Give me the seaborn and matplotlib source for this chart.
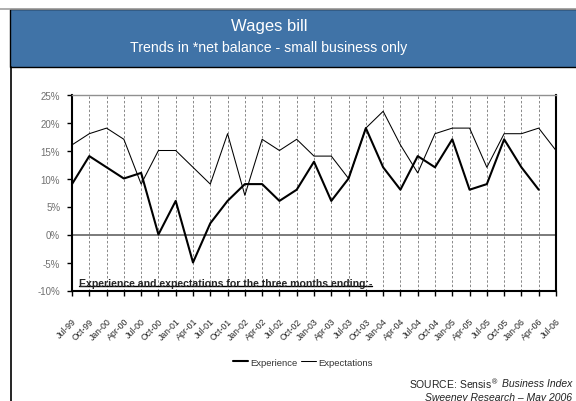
import matplotlib
matplotlib.use("Agg")
import matplotlib.pyplot as plt
from matplotlib.patches import Rectangle
from matplotlib.lines import Line2D
import seaborn as sns
import pandas as pd

quarters = ["Jul-99", "Oct-99", "Jan-00", "Apr-00", "Jul-00", "Oct-00", "Jan-01", "Apr-01",
            "Jul-01", "Oct-01", "Jan-02", "Apr-02", "Jul-02", "Oct-02", "Jan-03", "Apr-03",
            "Jul-03", "Oct-03", "Jan-04", "Apr-04", "Jul-04", "Oct-04", "Jan-05", "Apr-05",
            "Jul-05", "Oct-05", "Jan-06", "Apr-06", "Jul-06"]
experience = [9, 14, 12, 10, 11, 0, 6, -5, 2, 6, 9, 9, 6, 8, 13, 6, 10, 19, 12, 8,
              14, 12, 17, 8, 9, 17, 12, 8, None]
expectations = [16, 18, 19, 17, 9, 15, 15, 12, 9, 18, 7, 17, 15, 17, 14, 14, 10, 19, 22, 16,
                11, 18, 19, 19, 12, 18, 18, 19, 15]
y_ticks = [-10, -5, 0, 5, 10, 15, 20, 25]

sns.set_theme(style="white")
FONT = ["Liberation Sans", "DejaVu Sans"]
plt.rcParams["font.family"] = FONT

df = pd.DataFrame({"idx": range(len(quarters)), "quarter": quarters,
                   "Experience": experience, "Expectations": expectations})

fig = plt.figure(figsize=(5.76, 4.02), dpi=100)
W, H = 576, 402

# frame / title banner
fig.add_artist(Line2D([0, 1], [1 - 9.5 / H, 1 - 9.5 / H], color="#a0a0a0", lw=1.2))
fig.add_artist(Rectangle((10 / W, 1 - 68 / H), 1, 58 / H, facecolor="#4073a7",
                         edgecolor="black", lw=1.0))
fig.add_artist(Line2D([11 / W, 11 / W], [0, 1 - 68 / H], color="black", lw=1.2))
fig.text(269 / W, 1 - 27 / H, "Wages bill", color="white", ha="center", va="center", fontsize=12)
fig.text(269 / W, 1 - 48 / H, "Trends in *net balance - small business only", color="white",
         ha="center", va="center", fontsize=10.2)

ax = fig.add_axes([72 / W, 1 - 291.5 / H, (556 - 72) / W, (291.5 - 95.5) / H])
sns.lineplot(data=df, x="idx", y="Experience", ax=ax, color="black", lw=1.5, label="Experience")
sns.lineplot(data=df, x="idx", y="Expectations", ax=ax, color="black", lw=0.75, label="Expectations")

ax.set_xlim(0, len(quarters) - 1)
ax.set_ylim(-10, 25)
ax.set_yticks(y_ticks)
ax.set_yticklabels([f"{v}%" for v in y_ticks], color="#707070", fontsize=7)
ax.set_xticks(range(len(quarters)))
ax.set_xticklabels(quarters, rotation=45, ha="right", va="top", rotation_mode="anchor",
                   fontsize=6.3)
ax.set_xlabel("")
ax.set_ylabel("")
ax.tick_params(axis="both", which="both", direction="out", length=3.5, width=1, color="black",
               bottom=True, left=True, pad=5)
ax.tick_params(axis="x", pad=15)

for i in range(1, len(quarters) - 1):
    ax.axvline(i, color="#888888", lw=0.7, ls=(0, (2.5, 2)), zorder=0)
ax.axhline(0, color="#707070", lw=1.3, zorder=1)

for s in ["left", "bottom", "right"]:
    ax.spines[s].set_color("black")
    ax.spines[s].set_linewidth(1.5)
ax.spines["top"].set_color("#909090")
ax.spines["top"].set_linewidth(1.0)

t = ax.text(0.014, 0.012, "Experience and expectations for the three months ending:-",
            transform=ax.transAxes, fontsize=7.6, fontweight="bold", ha="left", va="bottom")
fig.canvas.draw()
r = fig.canvas.get_renderer()
bb = t.get_window_extent(r)
ax.add_artist(Line2D([bb.x0, bb.x1], [bb.y0 + 2, bb.y0 + 2], transform=None, color="black", lw=1.0))

leg = ax.legend(loc="center", bbox_to_anchor=(303 / W, 1 - 363 / H), bbox_transform=fig.transFigure,
                ncol=2, frameon=False, fontsize=6.8, handlelength=1.6, columnspacing=0.4,
                handletextpad=0.2)
for tt in leg.get_texts():
    tt.set_color("#333333")

src = fig.text(572 / W, 1 - 384 / H, "Business Index", ha="right", va="center", fontsize=7.5,
               style="italic", color="#222222")
fig.canvas.draw()
sb = src.get_window_extent(fig.canvas.get_renderer())
fig.text((sb.x0 - 3) / W, 1 - 384 / H, "SOURCE: Sensis$^{®}$", ha="right", va="center",
         fontsize=7.5, color="#222222")
fig.text(572 / W, 1 - 398 / H, "Sweeney Research – May 2006", ha="right", va="center",
         fontsize=7.5, style="italic", color="#222222")

fig.savefig("out.png", dpi=100)
